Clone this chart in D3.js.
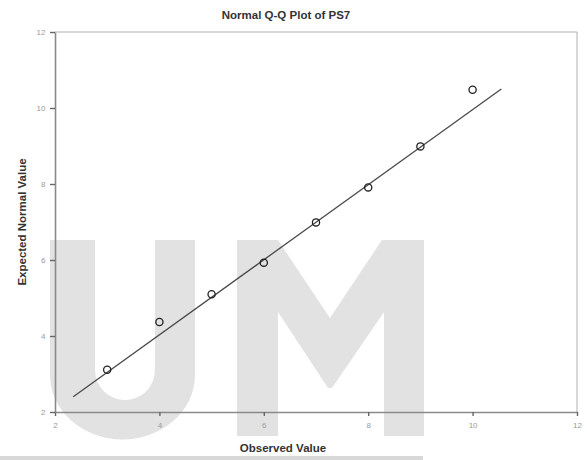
<!DOCTYPE html>
<html>
<head>
<meta charset="utf-8">
<script src="https://cdn.jsdelivr.net/npm/d3@7"></script>
<style>
  html, body { margin: 0; padding: 0; background: #fff; }
  svg { display: block; }
</style>
</head>
<body>
<svg id="chart" width="587" height="460"></svg>
<script>
// Observed values and their expected normal quantiles
const observed = [3, 4, 5, 6, 7, 8, 9, 10];
const expected = [3.11, 4.37, 5.10, 5.93, 6.99, 7.91, 8.99, 10.48];
// Reference line endpoints
const refX = [2.35, 10.55];
const refY = [2.40, 10.50];
// Axis ticks
const xTicks = [2, 4, 6, 8, 10, 12];
const yTicks = [2, 4, 6, 8, 10, 12];

const svg = d3.select("#chart");
const plotLeft = 55, plotRight = 577, plotTop = 32, plotBottom = 412;

const x = d3.scaleLinear().domain([2, 12]).range([plotLeft, plotRight]);
const y = d3.scaleLinear().domain([2, 12]).range([plotBottom, plotTop]);

// Large light background lettering
const bg = svg.append("g").attr("fill", "#e2e2e2");
bg.append("path").attr("d",
  "M50,240 L95,240 L95,370 A30,30 0 0 0 155,370 L155,240 L195,240 L195,375 " +
  "A72,64 0 0 1 50,375 Z");
bg.append("path").attr("d",
  "M237,240 L278,240 L330,318 L382,240 L424,240 L424,436 L384,436 L384,312 " +
  "L332,388 L328,388 L278,312 L278,436 L237,436 Z");
bg.append("rect").attr("x", 0).attr("y", 456).attr("width", 423).attr("height", 4)
  .attr("fill", "#d8d8d8");

// Frame
const frameColor = "#8a8a8a";
svg.append("path")
  .attr("d", `M${plotLeft},${plotTop} L${plotRight},${plotTop} L${plotRight},${plotBottom}`)
  .attr("fill", "none").attr("stroke", "#b0b0b0").attr("stroke-width", 1);

// Axes
const xAxis = d3.axisBottom(x).tickValues(xTicks).tickSize(4).tickSizeOuter(0);
const yAxis = d3.axisLeft(y).tickValues(yTicks).tickSize(5).tickSizeOuter(0);

const gx = svg.append("g").attr("transform", `translate(0,${plotBottom})`).call(xAxis);
const gy = svg.append("g").attr("transform", `translate(${plotLeft},0)`).call(yAxis);

[gx, gy].forEach(g => {
  g.select(".domain").attr("stroke", frameColor).attr("stroke-width", 1.6);
  g.selectAll(".tick line").attr("stroke", "#666").attr("stroke-width", 1.4);
  g.selectAll(".tick text")
    .attr("fill", "#9a9a9a")
    .attr("font-family", "Liberation Sans, Arial, sans-serif")
    .attr("font-size", 8);
});
gx.selectAll(".tick text").attr("dy", "1.1em");
gy.selectAll(".tick text").attr("dx", "-0.2em");

// Reference line
svg.append("line")
  .attr("x1", x(refX[0])).attr("y1", y(refY[0]))
  .attr("x2", x(refX[1])).attr("y2", y(refY[1]))
  .attr("stroke", "#4a4a4a").attr("stroke-width", 1.3);

// Points
svg.append("g").selectAll("circle")
  .data(observed.map((v, i) => [v, expected[i]]))
  .join("circle")
  .attr("cx", d => x(d[0]))
  .attr("cy", d => y(d[1]))
  .attr("r", 3.6)
  .attr("fill", "none")
  .attr("stroke", "#222")
  .attr("stroke-width", 1.3);

// Title and axis labels
const font = "Liberation Sans, Arial, sans-serif";
svg.append("text")
  .attr("x", 286).attr("y", 19)
  .attr("text-anchor", "middle")
  .attr("font-family", font).attr("font-size", 11.5).attr("font-weight", "bold")
  .attr("fill", "#333")
  .text("Normal Q-Q Plot of PS7");

svg.append("text")
  .attr("x", 283).attr("y", 452)
  .attr("text-anchor", "middle")
  .attr("font-family", font).attr("font-size", 11.5).attr("font-weight", "bold")
  .attr("fill", "#333")
  .text("Observed Value");

svg.append("text")
  .attr("transform", "translate(26,222) rotate(-90)")
  .attr("text-anchor", "middle")
  .attr("font-family", font).attr("font-size", 11.5).attr("font-weight", "bold")
  .attr("fill", "#333")
  .text("Expected Normal Value");
</script>
</body>
</html>
